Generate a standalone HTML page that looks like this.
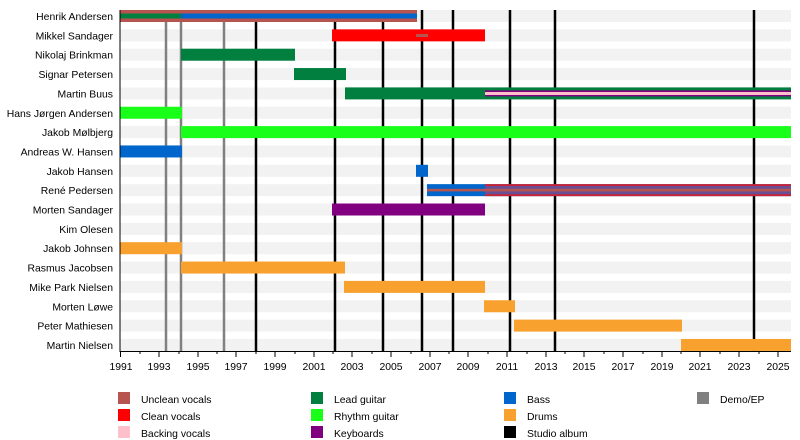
<!DOCTYPE html>
<html><head><meta charset="utf-8"><style>
body{margin:0;background:#fff}
svg{display:block;font-family:"Liberation Sans",sans-serif;font-size:10.4px}
</style></head><body>
<svg width="800" height="440" viewBox="0 0 800 440">
<g fill="#f2f2f2">
<rect x="120" y="10" width="671" height="12"/><rect x="120" y="29.35" width="671" height="12"/><rect x="120" y="48.7" width="671" height="12"/><rect x="120" y="68.05" width="671" height="12"/><rect x="120" y="87.4" width="671" height="12"/><rect x="120" y="106.75" width="671" height="12"/><rect x="120" y="126.1" width="671" height="12"/><rect x="120" y="145.45" width="671" height="12"/><rect x="120" y="164.8" width="671" height="12"/><rect x="120" y="184.15" width="671" height="12"/><rect x="120" y="203.5" width="671" height="12"/><rect x="120" y="222.85" width="671" height="12"/><rect x="120" y="242.2" width="671" height="12"/><rect x="120" y="261.55" width="671" height="12"/><rect x="120" y="280.9" width="671" height="12"/><rect x="120" y="300.25" width="671" height="12"/><rect x="120" y="319.6" width="671" height="12"/><rect x="120" y="338.95" width="671" height="12"/>
</g>
<g stroke="#808080" stroke-width="2.5">
<line x1="166" y1="10" x2="166" y2="351"/><line x1="181" y1="10" x2="181" y2="351"/><line x1="224" y1="10" x2="224" y2="351"/>
</g>
<g stroke="#000" stroke-width="2.5">
<line x1="256" y1="10" x2="256" y2="351"/><line x1="335" y1="10" x2="335" y2="351"/><line x1="383" y1="10" x2="383" y2="351"/><line x1="422" y1="10" x2="422" y2="351"/><line x1="453" y1="10" x2="453" y2="351"/><line x1="510" y1="10" x2="510" y2="351"/><line x1="555" y1="10" x2="555" y2="351"/><line x1="754" y1="10" x2="754" y2="351"/>
</g>
<rect x="120" y="10" width="297" height="12" fill="#b85450"/>
<rect x="120" y="13.5" width="61" height="5" fill="#007f3f"/>
<rect x="181" y="13.5" width="236" height="5" fill="#0066cc"/>
<rect x="332" y="29.35" width="153" height="12" fill="#ff0000"/>
<rect x="416" y="34" width="12" height="3" fill="#b85450"/>
<rect x="181" y="48.7" width="114" height="12" fill="#007f3f"/>
<rect x="294" y="68.05" width="52" height="12" fill="#007f3f"/>
<rect x="345" y="87.4" width="446" height="12" fill="#007f3f"/>
<rect x="485" y="90.4" width="306" height="6" fill="#800080"/>
<rect x="485" y="92" width="306" height="3" fill="#ffc0cb"/>
<rect x="120" y="106.75" width="62" height="12" fill="#1aff1a"/>
<rect x="181" y="126.1" width="610" height="12" fill="#1aff1a"/>
<rect x="120" y="145.45" width="62" height="12" fill="#0066cc"/>
<rect x="416" y="164.8" width="12" height="12" fill="#0066cc"/>
<rect x="427" y="184.15" width="364" height="12" fill="#0066cc"/>
<rect x="485" y="184.15" width="306" height="12" fill="#cc2233"/>
<rect x="485" y="186" width="306" height="8.3" fill="#6a4f95"/>
<rect x="427" y="188.8" width="364" height="2.6" fill="#b85450"/>
<rect x="332" y="203.5" width="153" height="12" fill="#800080"/>
<rect x="120" y="242.2" width="62" height="12" fill="#f9a12e"/>
<rect x="181" y="261.55" width="164" height="12" fill="#f9a12e"/>
<rect x="344" y="280.9" width="141" height="12" fill="#f9a12e"/>
<rect x="484" y="300.25" width="31" height="12" fill="#f9a12e"/>
<rect x="514" y="319.6" width="168" height="12" fill="#f9a12e"/>
<rect x="681" y="338.95" width="110" height="12" fill="#f9a12e"/>
<line x1="120" y1="10" x2="120" y2="352" stroke="#000"/>
<line x1="120" y1="351.5" x2="791" y2="351.5" stroke="#000"/>
<g stroke="#000">
<path d="M120.5 351v6M159 351v6M198 351v6M236 351v6M275 351v6M314 351v6M352 351v6M391 351v6M430 351v6M468 351v6M507 351v6M546 351v6M584 351v6M623 351v6M662 351v6M700 351v6M739 351v6M778 351v6"/>
<path d="M140 351v3M179 351v3M217 351v3M256 351v3M295 351v3M333 351v3M372 351v3M411 351v3M449 351v3M488 351v3M527 351v3M565 351v3M604 351v3M643 351v3M681 351v3M720 351v3M759 351v3"/>
</g>
<g text-anchor="middle" fill="#000">
<text x="121" y="370">1991</text><text x="159" y="370">1993</text><text x="198" y="370">1995</text><text x="236" y="370">1997</text><text x="275" y="370">1999</text><text x="314" y="370">2001</text><text x="352" y="370">2003</text><text x="391" y="370">2005</text><text x="430" y="370">2007</text><text x="468" y="370">2009</text><text x="507" y="370">2011</text><text x="546" y="370">2013</text><text x="584" y="370">2015</text><text x="623" y="370">2017</text><text x="662" y="370">2019</text><text x="700" y="370">2021</text><text x="739" y="370">2023</text><text x="778" y="370">2025</text>
</g>
<g text-anchor="end" fill="#000">
<text x="113" y="20">Henrik Andersen</text><text x="113" y="39.35">Mikkel Sandager</text><text x="113" y="58.7">Nikolaj Brinkman</text><text x="113" y="78.05">Signar Petersen</text><text x="113" y="97.4">Martin Buus</text><text x="113" y="116.75">Hans Jørgen Andersen</text><text x="113" y="136.1">Jakob Mølbjerg</text><text x="113" y="155.45">Andreas W. Hansen</text><text x="113" y="174.8">Jakob Hansen</text><text x="113" y="194.15">René Pedersen</text><text x="113" y="213.5">Morten Sandager</text><text x="113" y="232.85">Kim Olesen</text><text x="113" y="252.2">Jakob Johnsen</text><text x="113" y="271.55">Rasmus Jacobsen</text><text x="113" y="290.9">Mike Park Nielsen</text><text x="113" y="310.25">Morten Løwe</text><text x="113" y="329.6">Peter Mathiesen</text><text x="113" y="348.95">Martin Nielsen</text>
</g>
<rect x="118" y="392" width="12" height="12" fill="#b85450"/><text x="141" y="403">Unclean vocals</text>
<rect x="118" y="409" width="12" height="12" fill="#ff0000"/><text x="141" y="420">Clean vocals</text>
<rect x="118" y="426" width="12" height="12" fill="#ffc0cb"/><text x="141" y="437">Backing vocals</text>
<rect x="311" y="392" width="12" height="12" fill="#007f3f"/><text x="334" y="403">Lead guitar</text>
<rect x="311" y="409" width="12" height="12" fill="#1aff1a"/><text x="334" y="420">Rhythm guitar</text>
<rect x="311" y="426" width="12" height="12" fill="#800080"/><text x="334" y="437">Keyboards</text>
<rect x="504" y="392" width="12" height="12" fill="#0066cc"/><text x="527" y="403">Bass</text>
<rect x="504" y="409" width="12" height="12" fill="#f9a12e"/><text x="527" y="420">Drums</text>
<rect x="504" y="426" width="12" height="12" fill="#000"/><text x="527" y="437">Studio album</text>
<rect x="697" y="392" width="12" height="12" fill="#808080"/><text x="720" y="403">Demo/EP</text>
</svg>
</body></html>
